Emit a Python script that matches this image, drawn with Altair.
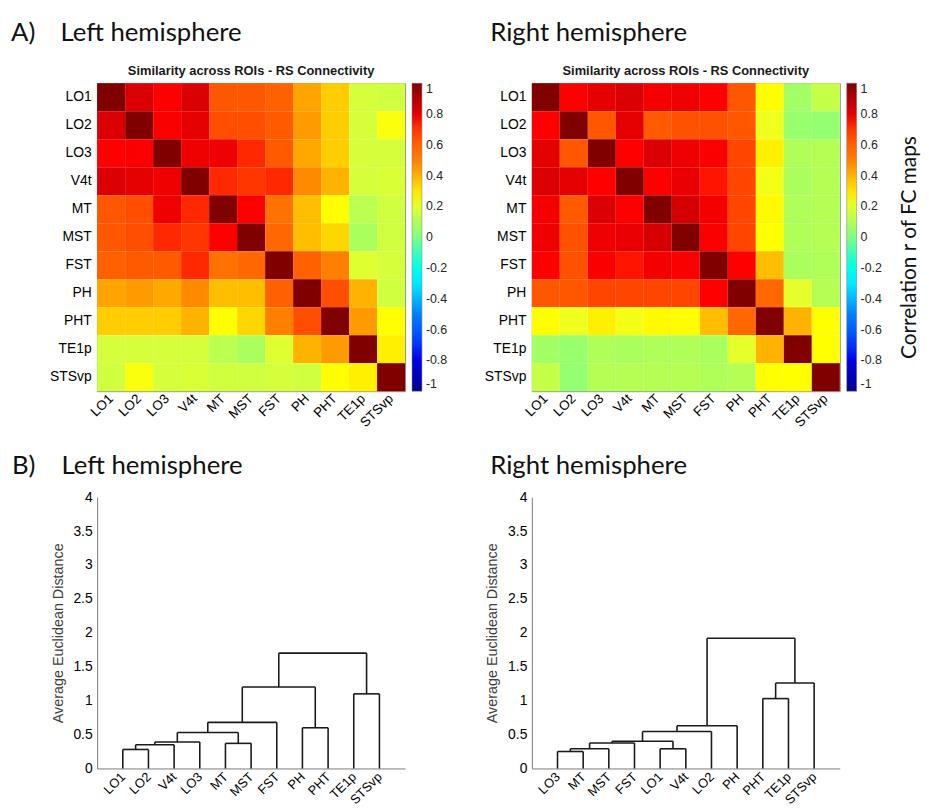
import altair as alt
import pandas as pd

rois = ["LO1", "LO2", "LO3", "V4t", "MT", "MST", "FST", "PH", "PHT", "TE1p", "STSvp"]

left_r = [
    [1.00, 0.82, 0.75, 0.82, 0.63, 0.63, 0.60, 0.43, 0.35, 0.17, 0.16],
    [0.82, 1.00, 0.76, 0.80, 0.65, 0.65, 0.62, 0.45, 0.35, 0.17, 0.24],
    [0.75, 0.76, 1.00, 0.78, 0.78, 0.72, 0.62, 0.42, 0.35, 0.17, 0.17],
    [0.82, 0.80, 0.78, 1.00, 0.72, 0.70, 0.72, 0.48, 0.40, 0.17, 0.18],
    [0.63, 0.65, 0.78, 0.72, 1.00, 0.75, 0.55, 0.38, 0.25, 0.12, 0.16],
    [0.63, 0.65, 0.72, 0.70, 0.75, 1.00, 0.58, 0.38, 0.33, 0.09, 0.16],
    [0.60, 0.62, 0.62, 0.72, 0.55, 0.58, 1.00, 0.60, 0.50, 0.19, 0.17],
    [0.43, 0.45, 0.42, 0.48, 0.38, 0.38, 0.60, 1.00, 0.65, 0.40, 0.16],
    [0.35, 0.35, 0.35, 0.40, 0.25, 0.33, 0.50, 0.65, 1.00, 0.45, 0.25],
    [0.17, 0.17, 0.17, 0.17, 0.12, 0.09, 0.19, 0.40, 0.45, 1.00, 0.28],
    [0.16, 0.24, 0.17, 0.18, 0.16, 0.16, 0.17, 0.16, 0.25, 0.28, 1.00],
]

right_r = [
    [1.00, 0.75, 0.80, 0.82, 0.77, 0.78, 0.75, 0.63, 0.25, 0.07, 0.14],
    [0.75, 1.00, 0.63, 0.80, 0.62, 0.64, 0.64, 0.63, 0.22, 0.05, 0.04],
    [0.80, 0.63, 1.00, 0.75, 0.82, 0.78, 0.76, 0.67, 0.28, 0.10, 0.11],
    [0.82, 0.80, 0.75, 1.00, 0.75, 0.79, 0.74, 0.67, 0.23, 0.09, 0.11],
    [0.77, 0.62, 0.82, 0.75, 1.00, 0.83, 0.77, 0.67, 0.26, 0.10, 0.11],
    [0.78, 0.64, 0.78, 0.79, 0.83, 1.00, 0.76, 0.67, 0.25, 0.10, 0.11],
    [0.75, 0.64, 0.76, 0.74, 0.77, 0.76, 1.00, 0.75, 0.38, 0.09, 0.10],
    [0.63, 0.63, 0.67, 0.67, 0.67, 0.67, 0.75, 1.00, 0.58, 0.20, 0.11],
    [0.25, 0.22, 0.28, 0.23, 0.26, 0.25, 0.38, 0.58, 1.00, 0.40, 0.25],
    [0.07, 0.05, 0.10, 0.09, 0.10, 0.10, 0.09, 0.20, 0.40, 1.00, 0.25],
    [0.14, 0.04, 0.11, 0.11, 0.11, 0.11, 0.10, 0.11, 0.25, 0.25, 1.00],
]

# dendrograms: leaf order and merges (child a, child b, height); int = earlier merge index
leaves_left = ["LO1", "LO2", "V4t", "LO3", "MT", "MST", "FST", "PH", "PHT", "TE1p", "STSvp"]
merges_left = [
    ("LO1", "LO2", 0.28),
    (0, "V4t", 0.35),
    (1, "LO3", 0.39),
    ("MT", "MST", 0.37),
    (2, 3, 0.53),
    (4, "FST", 0.68),
    ("PH", "PHT", 0.60),
    (5, 6, 1.20),
    ("TE1p", "STSvp", 1.10),
    (7, 8, 1.70),
]
leaves_right = ["LO3", "MT", "MST", "FST", "LO1", "V4t", "LO2", "PH", "PHT", "TE1p", "STSvp"]
merges_right = [
    ("LO3", "MT", 0.25),
    (0, "MST", 0.29),
    (1, "FST", 0.375),
    ("LO1", "V4t", 0.29),
    (2, 3, 0.40),
    (4, "LO2", 0.545),
    (5, "PH", 0.63),
    ("PHT", "TE1p", 1.03),
    (7, "STSvp", 1.26),
    (6, 8, 1.92),
]

panel_letters = ["A)", "B)"]
hemispheres = ["Left hemisphere", "Right hemisphere"]
heat_title = "Similarity across ROIs - RS Connectivity"
cbar_title = "Correlation r of FC maps"
cbar_ticks = [-1, -0.8, -0.6, -0.4, -0.2, 0, 0.2, 0.4, 0.6, 0.8, 1]
dist_ticks = [0, 0.5, 1, 1.5, 2, 2.5, 3, 3.5, 4]
dist_title = "Average Euclidean Distance"

jet_domain = [-1, -0.75, -0.5, -0.25, 0, 0.25, 0.5, 0.75, 1]
jet_range = ["#00008f", "#0000ff", "#0080ff", "#00ffff", "#80ff80",
             "#ffff00", "#ff8000", "#ff0000", "#800000"]

AX_FONT = "Liberation Sans"
HEAD_FONT = "Lato"
W = 311
H1 = 311
H2 = 274


def text_layer(text, x, y, size=26, angle=0, align="left", font=HEAD_FONT,
               weight="normal", color="#111"):
    return alt.Chart(pd.DataFrame({"t": [text]})).mark_text(
        align=align, baseline="middle", font=font, fontSize=size, color=color,
        angle=angle, fontWeight=weight,
    ).encode(text="t:N", x=alt.value(x), y=alt.value(y))


def heatmap(mat, legend, extras):
    df = pd.DataFrame([
        {"row": rois[i], "col": rois[j], "r": mat[i][j]}
        for i in range(len(rois)) for j in range(len(rois))
    ])
    rect = alt.Chart(df).mark_rect().encode(
        x=alt.X("col:N", sort=rois, axis=alt.Axis(
            title=None, labelAngle=315, labelAlign="right", labelBaseline="middle",
            ticks=False, domain=False, labelFontSize=13.5, labelPadding=5,
            labelOverlap=False)),
        y=alt.Y("row:N", sort=rois, axis=alt.Axis(
            title=None, ticks=False, domain=False, labelFontSize=14, labelPadding=6)),
        color=alt.Color("r:Q", scale=alt.Scale(domain=jet_domain, range=jet_range),
                        legend=legend),
    )
    title = text_layer(heat_title, W / 2, -12, size=13, align="center", font=AX_FONT,
                       weight="bold", color="#1a1a1a")
    return alt.layer(rect, title, *extras).properties(
        width=W, height=H1,
        view=alt.ViewBackground(stroke="#8a8a8a", strokeWidth=1),
    )


def dendro_df(leaves, merges):
    pos = {name: i + 1 for i, name in enumerate(leaves)}
    nodes = []
    segs = []

    def get(c):
        if isinstance(c, str):
            return pos[c], 0.0
        return nodes[c]

    for a, b, h in merges:
        xa, ha = get(a)
        xb, hb = get(b)
        segs.append(dict(x=xa, x2=xb, y=h, y2=h))
        segs.append(dict(x=xa, x2=xa, y=ha, y2=h))
        segs.append(dict(x=xb, x2=xb, y=hb, y2=h))
        nodes.append(((xa + xb) / 2, h))
    return pd.DataFrame(segs)


def dendrogram(leaves, merges, extras):
    df = dendro_df(leaves, merges)
    names = "[" + ",".join("'%s'" % n for n in leaves) + "]"
    rules = alt.Chart(df).mark_rule(color="#1a1a1a", strokeWidth=1.6).encode(
        x=alt.X("x:Q", scale=alt.Scale(domain=[0, len(leaves) + 1], nice=False, zero=False),
                axis=alt.Axis(values=list(range(1, len(leaves) + 1)),
                              labelExpr=names + "[datum.value - 1]",
                              title=None, labelAngle=315, labelAlign="right",
                              labelBaseline="middle", ticks=False, grid=False,
                              labelOverlap=False, labelBound=False,
                              domainColor="#7a7a7a", labelFontSize=13, labelPadding=6)),
        x2="x2:Q",
        y=alt.Y("y:Q", scale=alt.Scale(domain=[0, 4], nice=False),
                axis=alt.Axis(values=dist_ticks, labelExpr="toString(datum.value)",
                              title=dist_title, titleFontSize=14.5, titleFontWeight="normal",
                              titleColor="#404040", titlePadding=8, ticks=False, grid=False,
                              labelOverlap=False,
                              domainColor="#7a7a7a", labelFontSize=14, labelPadding=5)),
        y2="y2:Q",
    )
    return alt.layer(rules, *extras).properties(
        width=W, height=H2, view=alt.ViewBackground(stroke=None)
    )


def cbar_legend():
    return alt.Legend(
        title=None, orient="right", offset=7, gradientLength=H1, gradientThickness=10,
        values=cbar_ticks, labelExpr="toString(datum.value)", labelFontSize=12.5,
        labelFont=AX_FONT, labelColor="#262626", labelOffset=4, padding=0,
        labelOverlap=False, direction="vertical", type="gradient",
        gradientStrokeColor="#777", gradientStrokeWidth=0.5,
    )


heat_left = heatmap(left_r, cbar_legend(), [
    text_layer(panel_letters[0], -87, -51),
    text_layer(hemispheres[0], -37, -51),
])
heat_right = heatmap(right_r, cbar_legend(), [
    text_layer(hemispheres[1], -42, -51),
    text_layer(cbar_title, 382, 166, size=21, angle=270, align="center"),
])
dend_left = dendrogram(leaves_left, merges_left, [
    text_layer(panel_letters[1], -86, -31),
    text_layer(hemispheres[0], -36, -31),
])
dend_right = dendrogram(leaves_right, merges_right, [
    text_layer(hemispheres[1], -42, -31),
])

chart = alt.concat(
    heat_left, heat_right, dend_left, dend_right,
    columns=2, spacing={"row": 107, "column": 128}, bounds="flush",
).resolve_scale(color="independent").resolve_legend(color="independent").properties(
    padding={"left": 2, "top": 7, "right": 0, "bottom": 0}
).configure_axis(
    labelFont=AX_FONT, titleFont=AX_FONT, labelColor="#262626"
).configure(background="white")

chart.save("out.html", embed_options={"renderer": "svg", "actions": False})
